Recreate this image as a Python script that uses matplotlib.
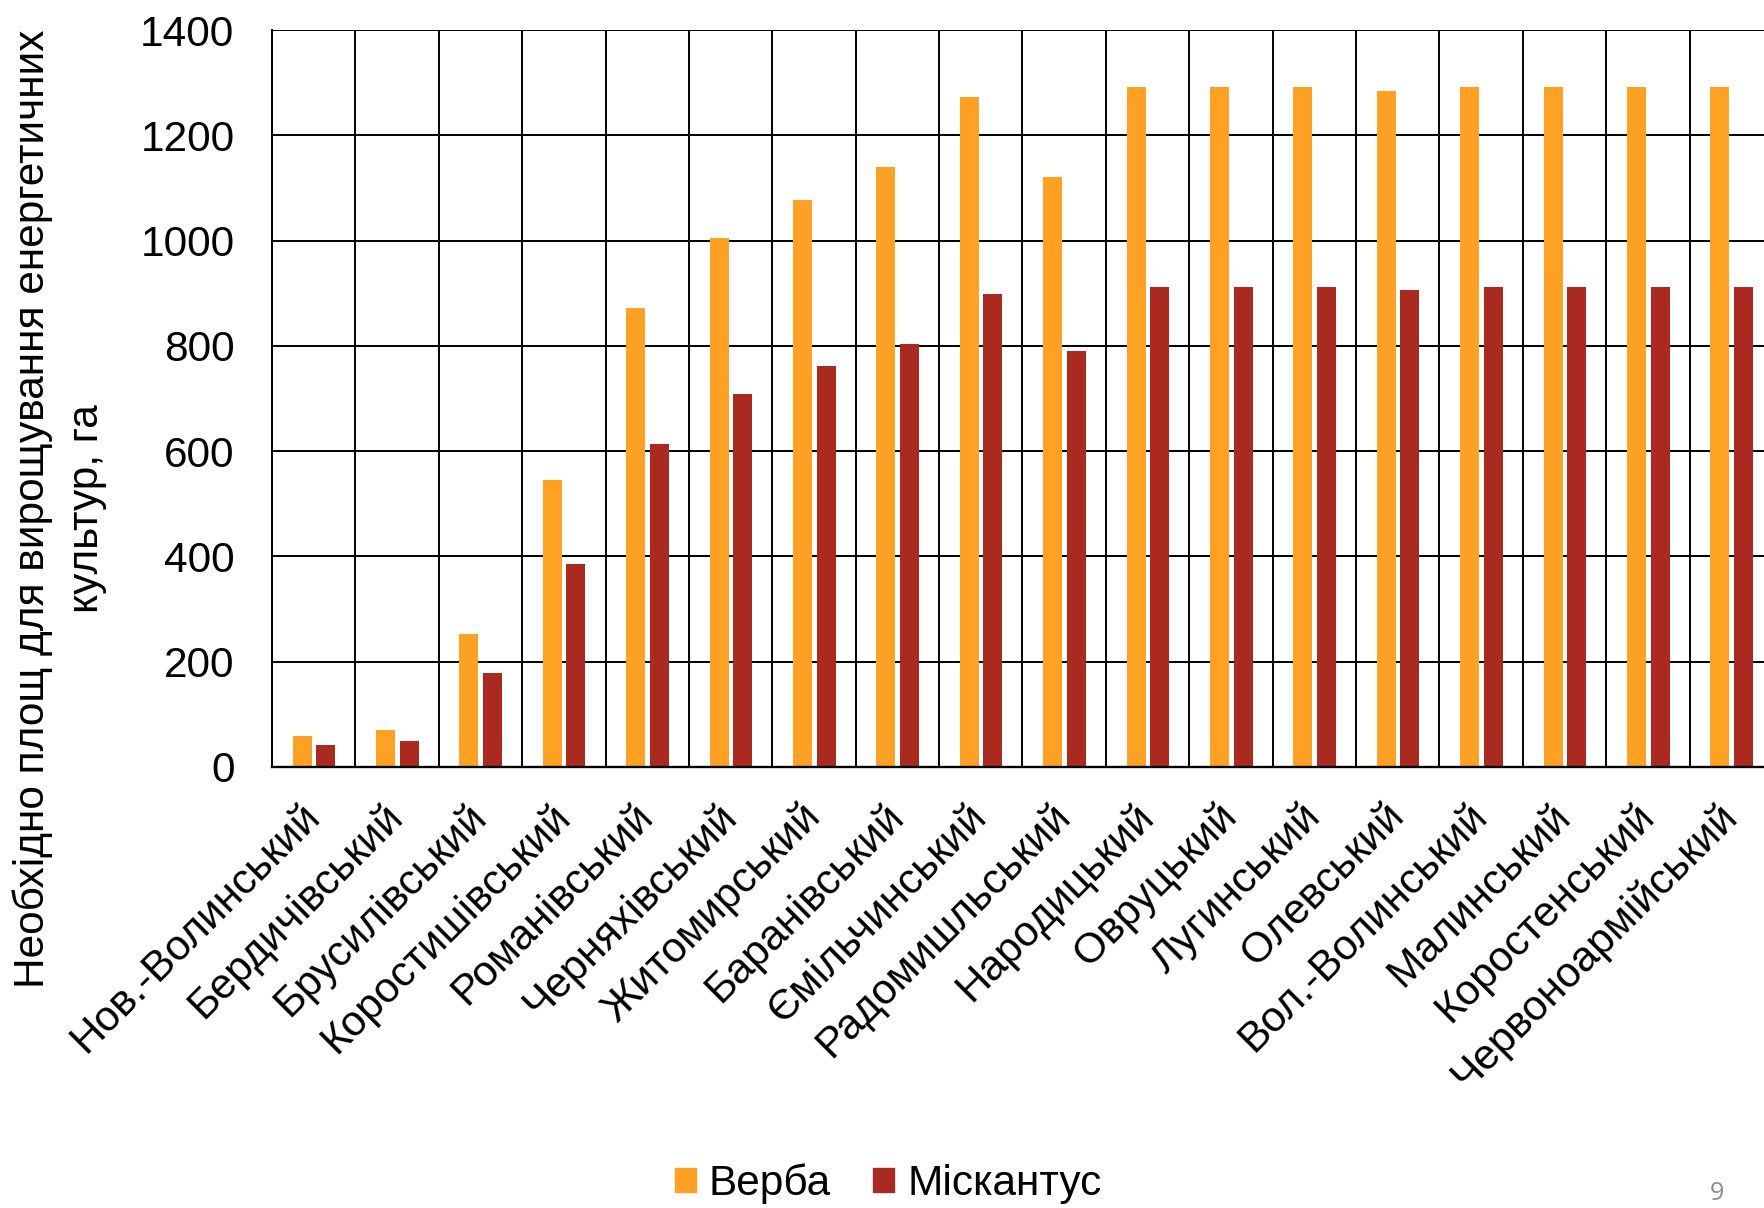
import numpy as np
import matplotlib
matplotlib.use('Agg')
import matplotlib.pyplot as plt
from matplotlib.patches import Patch

plt.rcParams['font.family'] = ['Liberation Sans', 'DejaVu Sans']

districts = [
    'Нов.-Волинський', 'Бердичівський', 'Брусилівський', 'Коростишівський',
    'Романівський', 'Черняхівський', 'Житомирський', 'Баранівський',
    'Ємільчинський', 'Радомишльський', 'Народицький', 'Овруцький',
    'Лугинський', 'Олевський', 'Вол.-Волинський', 'Малинський',
    'Коростенський', 'Червоноармійський',
]
verba = [59, 71, 253, 546, 871, 1004, 1078, 1139, 1273, 1120,
         1291, 1291, 1291, 1285, 1291, 1291, 1291, 1291]
miscanthus = [41, 50, 179, 386, 614, 709, 761, 803, 898, 791,
              911, 911, 911, 907, 911, 911, 911, 911]

C_VERBA = '#ffa124'
C_MISC = '#aa2a20'
FS = 30.5

fig = plt.figure(figsize=(17.65, 12.08), dpi=100)
fig.patch.set_facecolor('white')
# plot area runs slightly past the right edge of the slide
ax = fig.add_axes([272 / 1765, 1 - 767 / 1208, 1501 / 1765, 737 / 1208])

x = np.arange(len(districts))
w = 0.228
ax.bar(x - 0.138, verba, w, color=C_VERBA, zorder=3, label='Верба')
ax.bar(x + 0.145, miscanthus, w, color=C_MISC, zorder=3, label='Міскантус')

ax.set_xlim(-0.5, len(districts) - 0.5)
ax.set_ylim(0, 1400)
ax.set_yticks(np.arange(0, 1401, 200))
ax.set_xticks(x)
ax.set_xticklabels(districts, rotation=45, ha='right', va='center',
                   rotation_mode='anchor', fontsize=FS)
ax.set_xticks(np.arange(-0.5, len(districts), 1), minor=True)
ax.tick_params(axis='y', length=0, pad=27, labelsize=FS)
ax.tick_params(axis='x', which='both', length=0, pad=31)

ax.grid(axis='y', which='major', color='black', lw=1.4, zorder=1)
ax.grid(axis='x', which='minor', color='black', lw=1.4, zorder=1)
ax.grid(axis='x', which='major', visible=False)

for s in ['top', 'right']:
    ax.spines[s].set_visible(False)
ax.spines['left'].set_linewidth(1.4)
ax.spines['bottom'].set_linewidth(1.7)
ax.spines['bottom'].set_zorder(4)

fig.text(60 / 1765, 1 - 509 / 1208,
         'Необхідно площ для вирощування енергетичних\nкультур, га',
         rotation=90, ha='center', va='center', multialignment='center',
         fontsize=FS, linespacing=1.45)

handles = [Patch(color=C_VERBA, label='Верба'), Patch(color=C_MISC, label='Міскантус')]
fig.legend(handles=handles, loc='center', bbox_to_anchor=(888 / 1765, 1 - 1184 / 1208),
           ncol=2, frameon=False, fontsize=FS, handlelength=0.5, handleheight=0.5,
           handletextpad=0.3, columnspacing=1.0, borderaxespad=0)

fig.text(1717 / 1765, 1 - 1193 / 1208, '9', color='#8c8c8c', fontsize=18,
         family='Open Sans', ha='center', va='center')

fig.savefig('out.png', dpi=100, facecolor='white')
